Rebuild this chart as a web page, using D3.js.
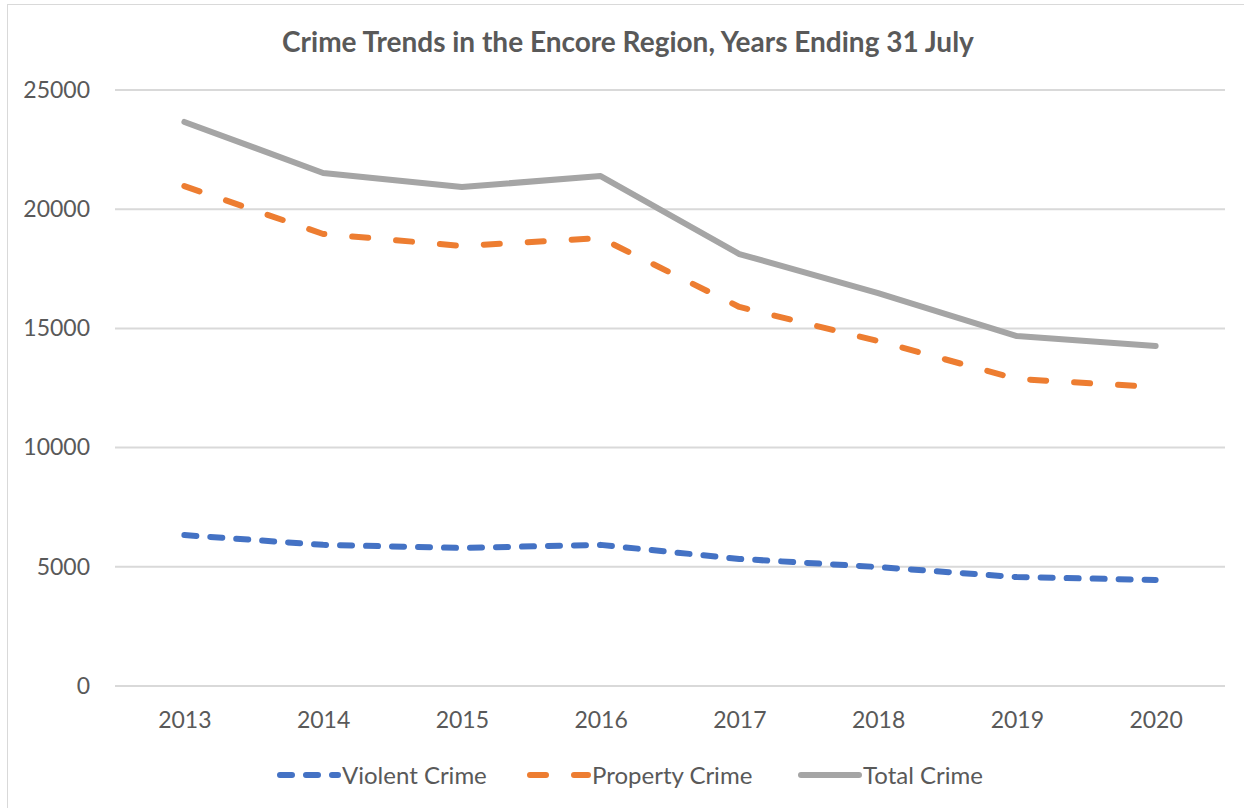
<!DOCTYPE html>
<html>
<head>
<meta charset="utf-8">
<script src="https://cdn.jsdelivr.net/npm/d3@7"></script>
<style>
  body { margin: 0; background: #fff; }
  text { font-family: Lato, "Open Sans", sans-serif; fill: #595959; }
</style>
</head>
<body>
<script>
  var years = ["2013", "2014", "2015", "2016", "2017", "2018", "2019", "2020"];
  var violent = [6330, 5920, 5790, 5920, 5330, 4990, 4570, 4450];
  var property = [20970, 18960, 18460, 18790, 15900, 14470, 12880, 12540];
  var total = [23660, 21520, 20930, 21390, 18120, 16480, 14680, 14260];
  var yTicks = [0, 5000, 10000, 15000, 20000, 25000];

  var width = 1244, height = 808;
  var svg = d3.select("body").append("svg")
    .attr("width", width)
    .attr("height", height);

  // chart frame
  svg.append("rect")
    .attr("x", 7.5).attr("y", 4.5)
    .attr("width", 1250).attr("height", 820)
    .attr("fill", "#fff")
    .attr("stroke", "#d9d9d9");

  var plotLeft = 115, plotRight = 1225, plotTop = 90, plotBottom = 686;

  var x = d3.scalePoint().domain(years).range([plotLeft, plotRight]).padding(0.5);
  var y = d3.scaleLinear().domain([0, 25000]).range([plotBottom, plotTop]);

  // gridlines
  svg.append("g")
    .selectAll("line")
    .data(yTicks)
    .enter().append("line")
    .attr("x1", plotLeft).attr("x2", plotRight)
    .attr("y1", function(d) { return y(d); })
    .attr("y2", function(d) { return y(d); })
    .attr("stroke", "#d9d9d9")
    .attr("stroke-width", 2);

  var yAxis = d3.axisLeft(y).tickValues(yTicks).tickFormat(d3.format("d")).tickSize(0).tickPadding(25);
  svg.append("g")
    .attr("transform", "translate(" + plotLeft + ",0)")
    .call(yAxis)
    .call(function(g) { g.select(".domain").remove(); })
    .selectAll("text")
    .style("font-size", "23px")
    .attr("fill", "#595959");

  var xAxis = d3.axisBottom(x).tickSize(0).tickPadding(26);
  svg.append("g")
    .attr("transform", "translate(0," + plotBottom + ")")
    .call(xAxis)
    .call(function(g) { g.select(".domain").remove(); })
    .selectAll("text")
    .style("font-size", "23px")
    .attr("fill", "#595959");

  var series = [
    { name: "Violent Crime", values: violent, color: "#4472c4", dash: "12 14" },
    { name: "Property Crime", values: property, color: "#ed7d31", dash: "16 28" },
    { name: "Total Crime", values: total, color: "#a5a5a5", dash: null }
  ];

  var line = d3.line()
    .x(function(d, i) { return x(years[i]); })
    .y(function(d) { return y(d); });

  series.forEach(function(s) {
    svg.append("path")
      .datum(s.values)
      .attr("d", line)
      .attr("fill", "none")
      .attr("stroke", s.color)
      .attr("stroke-width", 6)
      .attr("stroke-linecap", "round")
      .attr("stroke-linejoin", "round")
      .attr("stroke-dasharray", s.dash);
  });

  // title
  svg.append("text")
    .attr("x", 628).attr("y", 52)
    .attr("text-anchor", "middle")
    .style("font-size", "28px")
    .style("font-weight", "bold")
    .text("Crime Trends in the Encore Region, Years Ending 31 July");

  // legend
  var legendX = [280, 530, 801];
  series.forEach(function(s, i) {
    var g = svg.append("g").attr("transform", "translate(" + legendX[i] + ",775)");
    g.append("line")
      .attr("x1", 0).attr("x2", 58)
      .attr("stroke", s.color)
      .attr("stroke-width", 6)
      .attr("stroke-linecap", "round")
      .attr("stroke-dasharray", s.dash);
    g.append("text")
      .attr("x", 62).attr("y", 9)
      .style("font-size", "24px")
      .text(s.name);
  });
</script>
</body>
</html>
